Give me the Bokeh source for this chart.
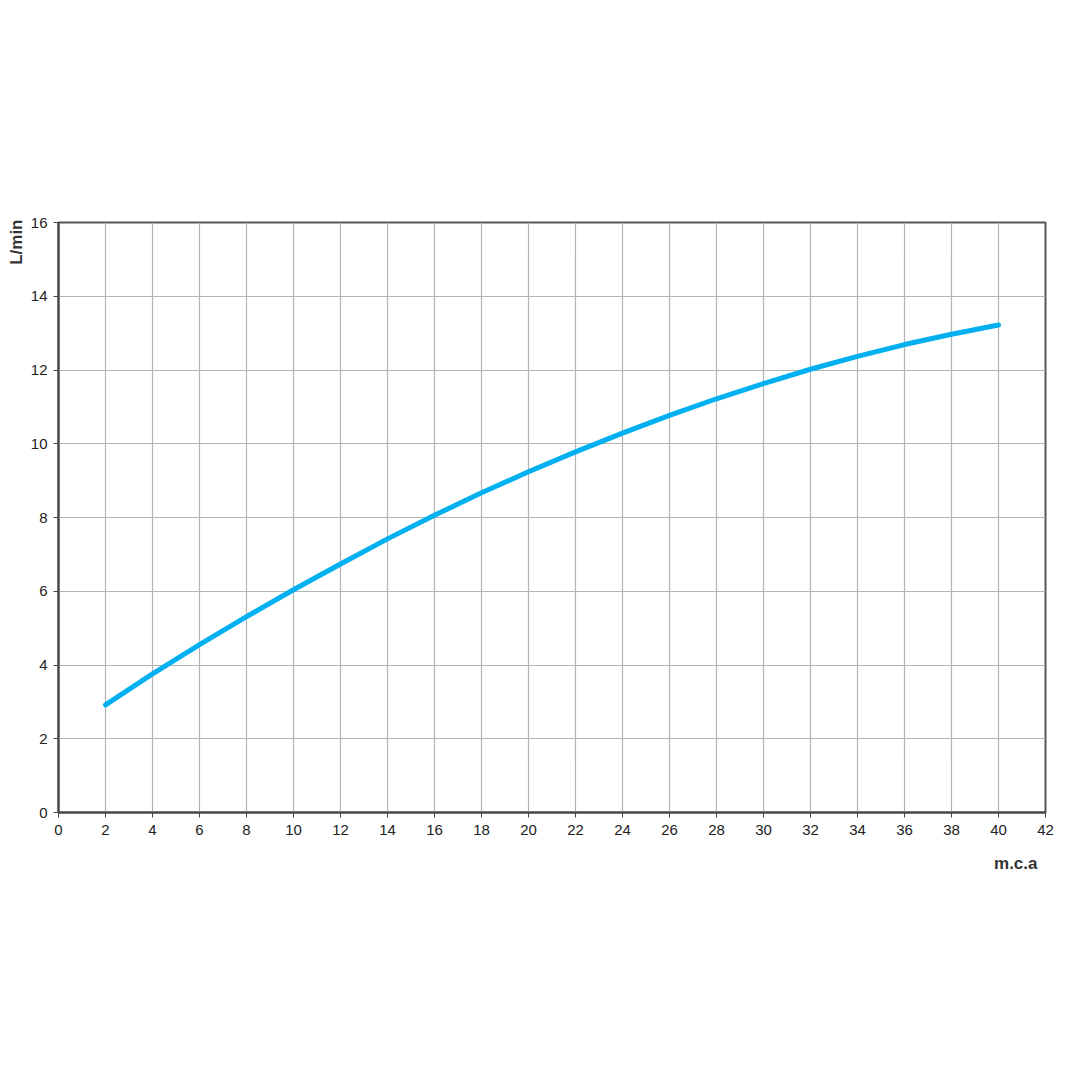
from bokeh.plotting import figure
from bokeh.models import FixedTicker, Range1d, Title
from bokeh.embed import file_html
from bokeh.resources import INLINE

pressure = [2, 4, 6, 8, 10, 12, 14, 16, 18, 20, 22, 24, 26, 28, 30, 32, 34, 36, 38, 40]
flow = [2.92, 3.76, 4.55, 5.31, 6.04, 6.74, 7.42, 8.06, 8.67, 9.24, 9.78, 10.29, 10.77,
        11.22, 11.63, 12.02, 12.37, 12.69, 12.97, 13.22]
x_ticks = list(range(0, 43, 2))
y_ticks = list(range(0, 17, 2))
x_title = "m.c.a"
y_title = "L/min"

FONT = "Liberation Sans Narrow, Liberation Sans, Arial, sans-serif"

p = figure(frame_width=987, frame_height=590, output_backend="svg", toolbar_location=None,
           x_range=Range1d(0, 42), y_range=Range1d(0, 16),
           min_border_left=58, min_border_top=222, min_border_right=27, min_border_bottom=250)
p.background_fill_color = "white"
p.border_fill_color = "white"
p.outline_line_color = "#555555"
p.outline_line_width = 2

for ax in (p.xaxis, p.yaxis):
    ax.axis_line_color = "#444444"
    ax.axis_line_width = 2
    ax.major_tick_line_color = "#444444"
    ax.major_tick_line_width = 1
    ax.major_tick_out = 5
    ax.major_tick_in = 0
    ax.minor_tick_line_color = None
    ax.major_label_text_font = FONT
    ax.major_label_text_font_size = "15px"
    ax.major_label_text_color = "#222222"

p.xaxis.ticker = FixedTicker(ticks=x_ticks)
p.yaxis.ticker = FixedTicker(ticks=y_ticks)
p.xaxis.major_label_standoff = 7
p.yaxis.major_label_standoff = 6

p.xgrid.ticker = FixedTicker(ticks=x_ticks)
p.ygrid.ticker = FixedTicker(ticks=y_ticks)
p.grid.grid_line_color = "#b4b4b4"
p.grid.grid_line_width = 1.2

p.line(pressure, flow, line_color="#00b0f0", line_width=5, line_cap="round", line_join="round")

p.add_layout(Title(text=x_title, align="right", offset=8, standoff=28,
                   text_font=FONT, text_font_size="17px", text_font_style="bold",
                   text_color="#333333"), "below")
p.add_layout(Title(text=y_title, align="right", offset=-3, standoff=4,
                   text_font=FONT, text_font_size="17px", text_font_style="bold",
                   text_color="#333333"), "left")

open("out.html", "w").write(file_html(p, INLINE))
